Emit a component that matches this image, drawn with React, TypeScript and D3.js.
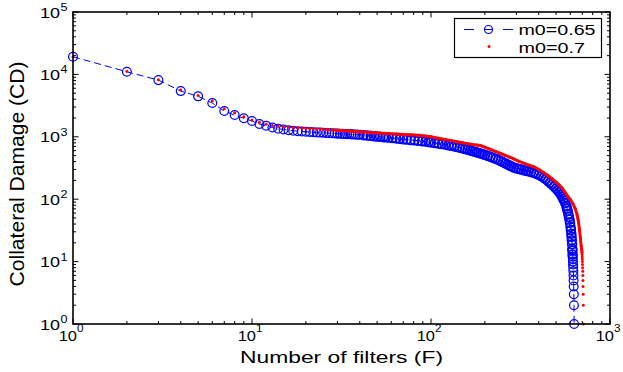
import * as d3 from 'd3'

// Number of filters (F) and collateral damage (CD)
const filtersBlue = [
  1, 2, 3, 4, 5, 6, 7, 8, 9, 10, 11, 12, 13, 14, 15, 16, 17, 18, 19, 20,
  21, 22, 23, 24, 25, 26, 27, 28, 29, 30, 31, 32, 33, 34, 35, 36, 37, 38, 39, 40,
  42, 44, 46, 48, 50, 52, 54, 56, 58,
  61, 64, 67, 70, 73, 77, 81, 85, 89, 93, 97, 100,
  105, 110, 115, 120, 125, 130, 135, 140, 145, 150, 155, 160, 165, 170, 175, 180, 185, 190, 195, 200,
  207, 215, 222, 230, 237, 245, 252, 260, 267, 275, 282, 290,
  300, 310, 320, 330, 340, 350, 362, 375, 387, 400, 412, 425, 437, 450, 462, 475, 487, 500,
  510, 520, 530, 540, 548, 555, 562, 570, 575, 580, 585, 590, 594, 598, 602, 605, 608, 610, 612, 614, 616, 617, 618,
  619, 620, 621, 622, 623, 624, 625, 626, 627, 628, 629, 630,
]
const damageBlue = [
  19200, 11000, 8100, 5400, 4450, 3480, 2590, 2230, 1980, 1790, 1600, 1505, 1410, 1350, 1310, 1276, 1253, 1230, 1216, 1207,
  1196, 1185, 1176, 1168, 1160, 1151, 1144, 1138, 1131, 1125, 1120, 1114, 1109, 1104, 1098, 1093, 1089, 1085, 1081, 1077,
  1063, 1049, 1035, 1022, 1010, 999, 988, 980, 971,
  957, 943, 929, 915, 904, 889, 878, 866, 852, 838, 824, 813,
  797, 781, 765, 750, 734, 718, 702, 686, 670, 654, 639, 624, 608, 592, 578, 564, 552, 540, 527, 515,
  497, 478, 461, 444, 427, 410, 393, 376, 361, 347, 334, 322,
  313, 305, 298, 291, 285, 280, 272, 265, 255, 246, 235, 223, 210, 196, 184, 172, 160, 148,
  139, 130, 120, 110, 102, 95, 87, 78, 71, 65, 58, 52, 47, 42, 36, 32, 28, 25, 22, 19, 16, 15, 13,
  12, 11, 10, 9, 8, 7, 6, 5, 4, 3, 2, 1,
]
const filtersRed = [
  1, 2, 3, 4, 5, 6, 7, 8, 9, 10, 11, 12, 13, 14, 15, 16, 17, 18, 19, 20,
  21, 22, 23, 24, 25, 26, 27, 28, 29, 30,
  33, 36, 40, 44, 48, 53, 58, 64, 70, 77, 85, 93, 100,
  110, 120, 130, 140, 150, 160, 170, 180, 190, 200,
  215, 230, 245, 260, 275, 290, 310, 330, 350, 375, 400, 425, 450, 475, 500,
  520, 540, 560, 580, 600, 620, 640, 655, 665, 675, 683, 690, 694, 696, 697, 698,
  699, 700, 701, 702, 703, 704, 705, 706, 707, 708, 709, 710,
]
const damageRed = [
  19200, 11200, 8200, 5600, 4600, 3750, 2820, 2430, 2100, 1860, 1710, 1590, 1517, 1473, 1447, 1425, 1404, 1389, 1379, 1368,
  1358, 1348, 1338, 1328, 1318, 1309, 1300, 1290, 1280, 1271,
  1248, 1225, 1203, 1181, 1163, 1142, 1125, 1109, 1093, 1077, 1057, 1034, 1000,
  950, 905, 869, 835, 804, 778, 753, 736, 718, 681,
  626, 579, 540, 503, 471, 441, 405, 378, 353, 331, 301, 268, 240, 212, 187,
  169, 151, 130, 112, 99, 85, 70, 56, 45, 33, 24, 18, 16, 15, 14, 13,
  12, 11, 10, 9, 8, 7, 6, 5, 4, 3, 2, 1,
]

const xDecades = [1, 10, 100, 1000]
const yDecades = [1, 10, 100, 1000, 10000, 100000]
const seriesLabels = ['m0=0.65', 'm0=0.7']
const xTitle = 'Number of filters (F)'
const yTitle = 'Collateral Damage (CD)'

const W = 623
const H = 372
const margin = { top: 12, right: 13, bottom: 48, left: 73 }
const font = '"Liberation Sans", Arial, Helvetica, sans-serif'
const BLUE = '#0000ff'
const RED = '#ff0000'

type Pt = [number, number]

export default function App() {
  const x = d3.scaleLog().domain([1, 1000]).range([margin.left, W - margin.right])
  const y = d3.scaleLog().domain([1, 100000]).range([H - margin.bottom, margin.top])
  const [x0, x1] = x.range()
  const [y0, y1] = y.range() // y0 bottom, y1 top

  const blue: Pt[] = filtersBlue.map((f, i) => [f, damageBlue[i]])
  const red: Pt[] = filtersRed.map((f, i) => [f, damageRed[i]])
  const line = d3.line<Pt>().x(d => x(d[0])).y(d => y(d[1]))

  // dense red dots merge into a solid stroke once they crowd together
  const redDense = red.filter(d => d[0] >= 30 && d[1] >= 14)

  const xTicks = x.ticks()
  const yTicks = y.ticks()
  const isDecade = (v: number) => Math.abs(Math.log10(v) - Math.round(Math.log10(v))) < 1e-9
  const exp = (v: number) => String(Math.round(Math.log10(v)))

  return (
    <svg width={W} height={H} style={{ position: 'absolute', left: 0, top: 0, background: '#fff' }} fontFamily={font}>
      {/* ticks, pointing inward on all four sides */}
      <g stroke="#000" strokeWidth={1}>
        {xTicks.map((t, i) => {
          const len = isDecade(t) ? 5.5 : 3
          return (
            <g key={'x' + i}>
              <line x1={x(t)} x2={x(t)} y1={y0} y2={y0 - len} />
              <line x1={x(t)} x2={x(t)} y1={y1} y2={y1 + len} />
            </g>
          )
        })}
        {yTicks.map((t, i) => {
          const len = isDecade(t) ? 5.5 : 3
          return (
            <g key={'y' + i}>
              <line x1={x0} x2={x0 + len} y1={y(t)} y2={y(t)} />
              <line x1={x1} x2={x1 - len} y1={y(t)} y2={y(t)} />
            </g>
          )
        })}
      </g>

      {/* m0 = 0.65: dashed line with open circles */}
      <path d={line(blue) ?? ''} fill="none" stroke={BLUE} strokeWidth={1} strokeDasharray="7,4" />
      <g fill="none" stroke={BLUE}>
        {blue.map((d, i) => (
          <circle key={i} cx={x(d[0])} cy={y(d[1])} r={4.4} strokeWidth={d[0] > 40 && d[1] > 12 ? 1.7 : 1.25} />
        ))}
      </g>

      {/* m0 = 0.7: point markers */}
      <path d={line(redDense) ?? ''} fill="none" stroke={RED} strokeWidth={3} strokeLinejoin="round" strokeLinecap="round" />
      <g fill={RED}>
        {red.map((d, i) => (
          <circle key={i} cx={x(d[0])} cy={y(d[1])} r={1.5} />
        ))}
      </g>

      {/* axes box */}
      <rect x={x0} y={y1} width={x1 - x0} height={y0 - y1} fill="none" stroke="#000" strokeWidth={1.6} />

      {/* tick labels */}
      {xDecades.map(t => (
        <g key={'xl' + t}>
          <text x={x(t) - 14.3} y={y0 + 17} fontSize={15} textLength={18.3} lengthAdjust="spacingAndGlyphs">10</text>
          <text x={x(t) + 4} y={y0 + 8} fontSize={10} textLength={6.5} lengthAdjust="spacingAndGlyphs">{exp(t)}</text>
        </g>
      ))}
      {yDecades.map(t => (
        <g key={'yl' + t}>
          <text x={40} y={y(t) + 5.5} fontSize={15} textLength={20} lengthAdjust="spacingAndGlyphs">10</text>
          <text x={60.5} y={y(t) - 1} fontSize={10} textLength={7} lengthAdjust="spacingAndGlyphs">{exp(t)}</text>
        </g>
      ))}

      {/* axis titles */}
      <text x={240} y={363} fontSize={16.3} textLength={203} lengthAdjust="spacingAndGlyphs">{xTitle}</text>
      <text
        transform={`translate(24,${(y0 + y1) / 2 + 6}) rotate(-90)`}
        textAnchor="middle"
        fontSize={20}
        textLength={225}
        lengthAdjust="spacingAndGlyphs"
      >
        {yTitle}
      </text>

      {/* legend */}
      <g>
        <rect x={454.5} y={18.5} width={147} height={39} fill="#fff" stroke="#000" strokeWidth={1.2} />
        <g stroke={BLUE} strokeWidth={1}>
          <line x1={464} x2={474} y1={29.5} y2={29.5} />
          <line x1={484} x2={493} y1={29.5} y2={29.5} />
          <line x1={503} x2={513} y1={29.5} y2={29.5} />
          <circle cx={488.5} cy={29.5} r={4} fill="none" strokeWidth={1.2} />
        </g>
        <circle cx={489} cy={46.5} r={1.5} fill={RED} />
        <text x={518.5} y={35} fontSize={15.5} textLength={77} lengthAdjust="spacingAndGlyphs">{seriesLabels[0]}</text>
        <text x={518.5} y={52.5} fontSize={15.5} textLength={66.5} lengthAdjust="spacingAndGlyphs">{seriesLabels[1]}</text>
      </g>
    </svg>
  )
}
